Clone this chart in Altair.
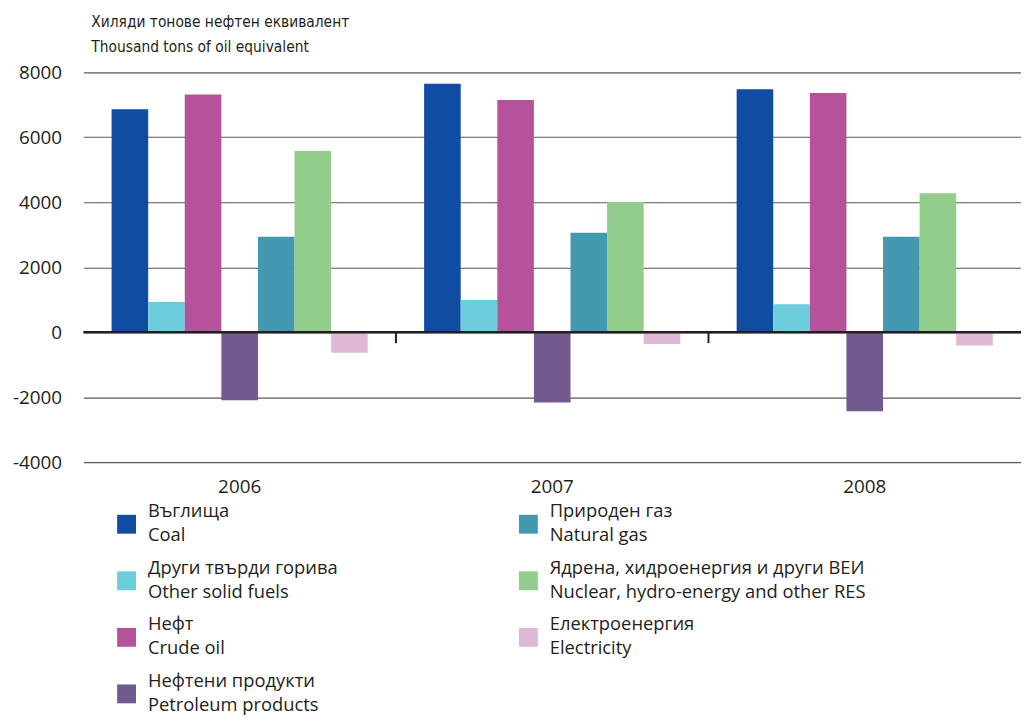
import altair as alt
import pandas as pd

years = ["2006", "2007", "2008"]
series = [
    "Въглища|Coal",
    "Други твърди горива|Other solid fuels",
    "Нефт|Crude oil",
    "Нефтени продукти|Petroleum products",
    "Природен газ|Natural gas",
    "Ядрена, хидроенергия и други ВЕИ|Nuclear, hydro-energy and other RES",
    "Електроенергия|Electricity",
]
coal = [6860, 7650, 7480]
other_solid = [930, 990, 860]
crude_oil = [7320, 7150, 7360]
petroleum = [-2090, -2160, -2430]
natural_gas = [2940, 3060, 2940]
nuclear = [5580, 4010, 4280]
electricity = [-630, -360, -410]
colors = ["#0e4da1", "#6ccedd", "#b5529c", "#72598e", "#4299b0", "#92cd8b", "#dfb8d6"]

values = [coal, other_solid, crude_oil, petroleum, natural_gas, nuclear, electricity]
rows = []
for s, vals in zip(series, values):
    for yr, v in zip(years, vals):
        rows.append({"year": yr, "series": s, "value": v})
df = pd.DataFrame(rows)

FONT = "Open Sans"
TXT = "#231f20"

xscale = alt.Scale(paddingInner=0, paddingOuter=0)
yscale = alt.Scale(domain=[-4000, 8000], nice=False)
xaxis = alt.Axis(domain=False, ticks=False, labelPadding=16, labelFontSize=19,
                 labelFont=FONT, labelColor=TXT, labelAngle=0, grid=False)
yaxis = alt.Axis(values=[-4000, -2000, 0, 2000, 4000, 6000, 8000], domain=False,
                 ticks=False, tickSize=0, labelPadding=22, gridColor="#58595b",
                 gridWidth=1.2, labelFontSize=19, labelFont=FONT, labelColor=TXT,
                 labelExpr="datum.value + ''")

bars = alt.Chart(df).mark_bar().encode(
    x=alt.X("year:N", title=None, scale=xscale, axis=xaxis),
    xOffset=alt.XOffset("series:N", sort=series,
                        scale=alt.Scale(paddingInner=0, paddingOuter=0.77)),
    y=alt.Y("value:Q", title=None, scale=yscale, axis=yaxis),
    color=alt.Color("series:N", scale=alt.Scale(domain=series, range=colors),
                    legend=alt.Legend(orient="none", legendX=34, legendY=446, columns=2,
                                      columnPadding=182, rowPadding=14, symbolType="square",
                                      symbolSize=361, symbolStrokeWidth=0, symbolOpacity=1,
                                      labelFontSize=18.5, labelFont=FONT, labelColor=TXT,
                                      labelOffset=12, labelLimit=600, padding=0,
                                      labelBaseline="line-bottom",
                                      labelExpr="split(datum.label, '|')", title=None)),
)

zero = alt.Chart(pd.DataFrame({"value": [0]})).mark_rule(color=TXT, strokeWidth=2.6).encode(
    y=alt.Y("value:Q", title=None, scale=yscale, axis=yaxis)
)

ticks = alt.Chart(pd.DataFrame({"year": years[1:], "value": [0, 0]})).mark_rule(
    color=TXT, strokeWidth=2, y2Offset=11
).encode(
    x=alt.X("year:N", title=None, bandPosition=0, scale=xscale, axis=xaxis),
    y=alt.Y("value:Q", title=None, scale=yscale, axis=yaxis),
    y2="value:Q",
)

chart = alt.layer(bars, zero, ticks).properties(
    width=945,
    height=393,
    autosize=alt.AutoSizeParams(type="none"),
    padding={"left": 76, "top": 62, "right": 0, "bottom": 254},
    title=alt.TitleParams(
        text=["Хиляди тонове нефтен еквивалент", "Thousand tons of oil equivalent"],
        anchor="start", frame="group", dx=8, offset=8, fontSize=15.5,
        font="Liberation Sans Narrow, DejaVu Sans Condensed, sans-serif",
        fontWeight="normal", color=TXT, lineHeight=25,
    ),
).configure(
    style={"guide-label": {"lineHeight": 24}}
).configure_view(stroke=None)

chart.save("out.html", embed_options={"renderer": "svg", "actions": False})
